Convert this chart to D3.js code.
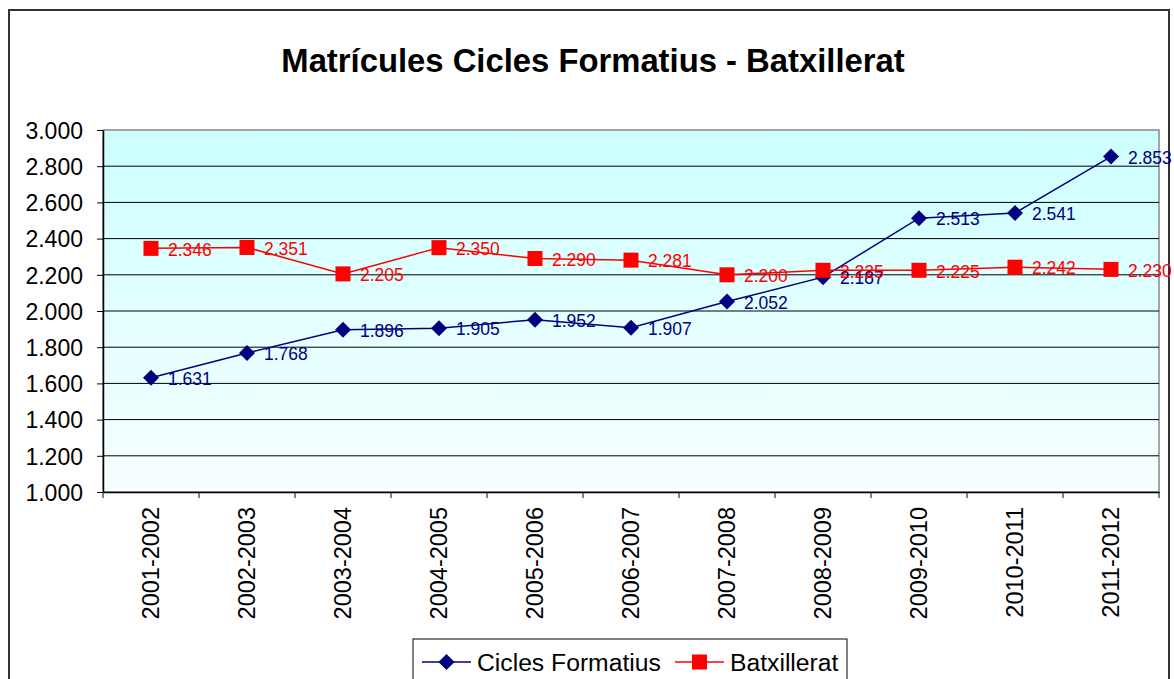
<!DOCTYPE html>
<html><head><meta charset="utf-8">
<script src="https://cdn.jsdelivr.net/npm/d3@7"></script>
<style>body{margin:0;background:#fff}svg{display:block}text{font-family:"Liberation Sans",Arial,sans-serif}</style>
</head><body>
<script>
const categories = ["2001-2002","2002-2003","2003-2004","2004-2005","2005-2006","2006-2007","2007-2008","2008-2009","2009-2010","2010-2011","2011-2012"];
const ciclesFormatius = [1631,1768,1896,1905,1952,1907,2052,2187,2513,2541,2853];
const batxillerat = [2346,2351,2205,2350,2290,2281,2200,2225,2225,2242,2230];
const yTicks = [1000,1200,1400,1600,1800,2000,2200,2400,2600,2800,3000];
const seriesNames = ["Cicles Formatius","Batxillerat"];

const W=1174,H=679;
const lab = v => (v/1000).toFixed(3);
const svg=d3.select("body").append("svg").attr("width",W).attr("height",H);
svg.append("rect").attr("x",9).attr("y",10).attr("width",1160).attr("height",700).attr("fill","#fff").attr("stroke","#333").attr("stroke-width",2);

svg.append("text").attr("x",593).attr("y",72).attr("text-anchor","middle").attr("font-size",32.8).attr("font-weight","bold").text("Matrícules Cicles Formatius - Batxillerat");

const L=103,R=1159,T=130,B=492;
const x=d3.scaleBand().domain(categories).range([L,R]);
const y=d3.scaleLinear().domain([1000,3000]).range([B,T]);

const defs=svg.append("defs");
const g=defs.append("linearGradient").attr("id","bg").attr("x1",0).attr("y1",0).attr("x2",0).attr("y2",1);
g.append("stop").attr("offset","0%").attr("stop-color","#ccffff");
g.append("stop").attr("offset","100%").attr("stop-color","#f7ffff");
svg.append("rect").attr("x",L).attr("y",T).attr("width",R-L).attr("height",B-T).attr("fill","url(#bg)").attr("stroke","#888").attr("stroke-width",1.5);

svg.append("g").selectAll("line").data(yTicks.filter(v=>v>1000&&v<3000)).join("line")
 .attr("x1",L).attr("x2",R).attr("y1",d=>y(d)).attr("y2",d=>y(d)).attr("stroke","#000").attr("stroke-width",1);

const ya=svg.append("g").attr("transform",`translate(${L},0)`).call(d3.axisLeft(y).tickValues(yTicks).tickFormat(lab).tickSize(6).tickSizeOuter(0));
ya.select(".domain").attr("stroke","#000").attr("stroke-width",1.5);
ya.selectAll("text").attr("font-size",23).attr("fill","#000").attr("x",-20).attr("dy","0.36em").attr("font-family","Liberation Sans, Arial, sans-serif");
ya.selectAll("line").attr("stroke","#000");

const xa=svg.append("g").attr("transform",`translate(0,${B})`).call(d3.axisBottom(x).tickSize(0).tickSizeOuter(0));
xa.select(".domain").attr("stroke","#000").attr("stroke-width",1.5);
xa.selectAll(".tick text").attr("font-size",23.5).attr("fill","#000").attr("font-family","Liberation Sans, Arial, sans-serif")
 .attr("transform","rotate(-90)").attr("text-anchor","end").attr("x",-15).attr("y",0).attr("dy","0.36em");
svg.append("g").selectAll("line").data(d3.range(categories.length+1)).join("line")
 .attr("x1",i=>L+i*x.step()).attr("x2",i=>L+i*x.step()).attr("y1",B).attr("y2",B+6).attr("stroke","#000").attr("stroke-width",1);

const cx=d=>x(d)+x.bandwidth()/2;
const line=d3.line().x((d,i)=>cx(categories[i])).y(d=>y(d));

const series=[{vals:ciclesFormatius,color:"#000080",shape:"diamond"},{vals:batxillerat,color:"#ff0000",shape:"square"}];
function marker(sel,shape,color,s){
  if(shape==="diamond") sel.append("path").attr("d",`M0,${-s}L${s},0L0,${s}L${-s},0Z`).attr("fill",color);
  else sel.append("rect").attr("x",-s).attr("y",-s).attr("width",2*s).attr("height",2*s).attr("fill",color);
}
series.forEach(sr=>{
  svg.append("path").datum(sr.vals).attr("d",line).attr("fill","none").attr("stroke",sr.color).attr("stroke-width",1.5);
});
series.forEach(sr=>{
  sr.vals.forEach((v,i)=>{
    const gg=svg.append("g").attr("transform",`translate(${cx(categories[i])},${y(v)})`);
    marker(gg,sr.shape,sr.color,sr.shape==="diamond"?8:7.5);
  });
});
series.forEach(sr=>{
  svg.append("g").selectAll("text").data(sr.vals).join("text")
   .attr("x",(d,i)=>cx(categories[i])+17).attr("y",d=>y(d)+1).attr("dy","0.36em")
   .attr("font-size",17.5).attr("fill",sr.color).text(d=>lab(d));
});

const lg=svg.append("g");
lg.append("rect").attr("x",413).attr("y",639).attr("width",434).attr("height",60).attr("fill","#fff").attr("stroke","#000").attr("stroke-width",1);
const items=[{name:seriesNames[0],color:"#000080",shape:"diamond",x:422,tx:477},{name:seriesNames[1],color:"#ff0000",shape:"square",x:675,tx:730}];
items.forEach(it=>{
  lg.append("line").attr("x1",it.x).attr("x2",it.x+49).attr("y1",662).attr("y2",662).attr("stroke",it.color).attr("stroke-width",1.5);
  const m=lg.append("g").attr("transform",`translate(${it.x+24.5},662)`);
  marker(m,it.shape,it.color,it.shape==="diamond"?8:7.5);
  lg.append("text").attr("x",it.tx).attr("y",662).attr("dy","0.36em").attr("font-size",24.7).attr("fill","#000").text(it.name);
});
</script>
</body></html>
